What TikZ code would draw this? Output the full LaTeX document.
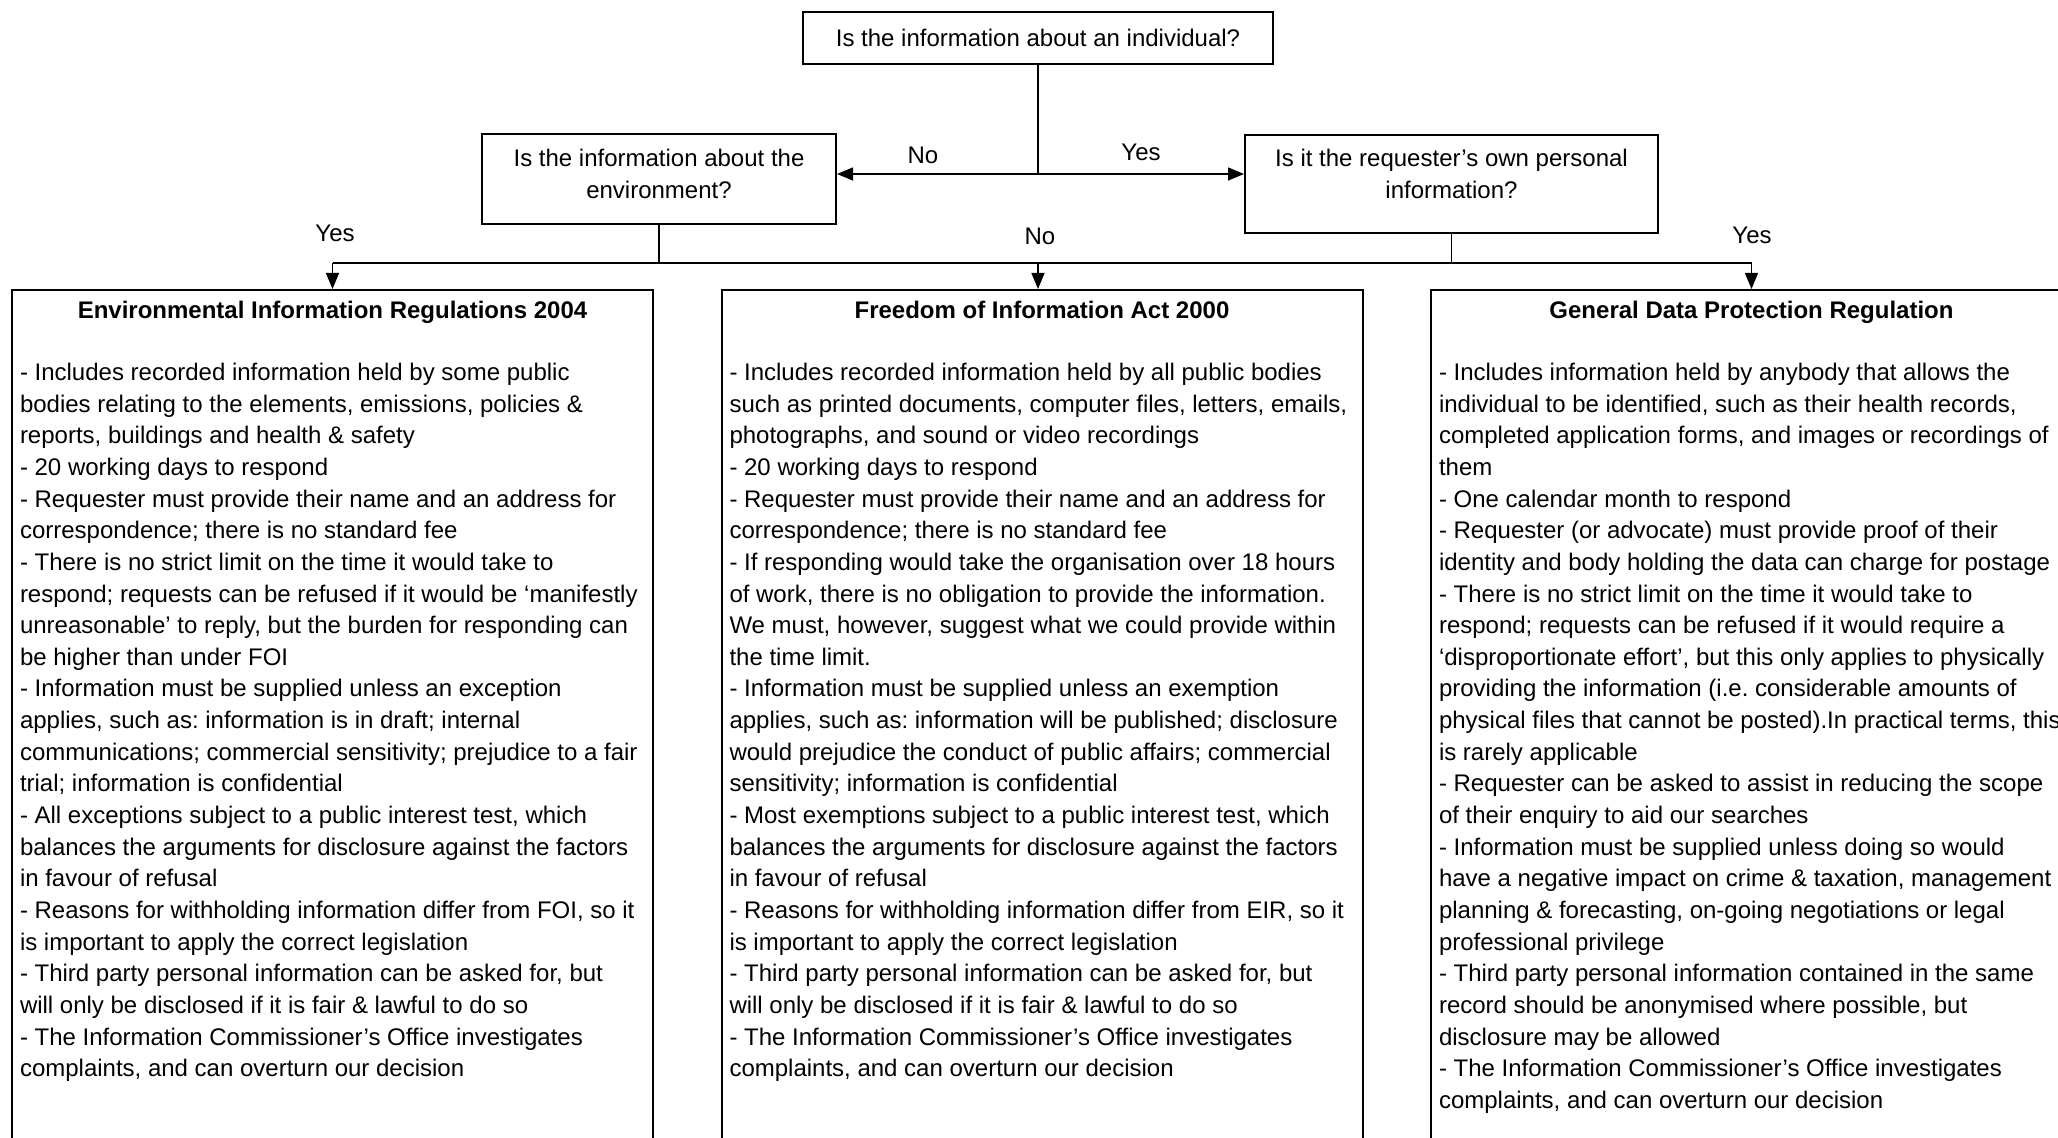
\documentclass[tikz,border=0pt]{standalone}
\usepackage{fontspec}
\setmainfont{Liberation Sans}
\usepackage{tikz}
\usetikzlibrary{arrows.meta}

\newcommand{\flowsize}{\fontsize{12pt}{15.83pt}\selectfont\frenchspacing}

\tikzset{
	question/.style={draw, line width=1pt, inner sep=0pt},
	questiontext/.style={anchor=north, align=center, inner sep=0pt},
	lawbox/.style={draw, line width=1pt, anchor=north, minimum width=320.5pt, minimum height=440pt, inner sep=0pt},
	lawtitle/.style={anchor=base, inner sep=0pt, font=\flowsize\bfseries},
	lawtext/.style={anchor=north west, align=left, inner sep=0pt},
	answer/.style={anchor=base, inner sep=0pt},
	link/.style={line width=0.7pt},
}

\begin{document}
\begin{tikzpicture}[x=0.5pt, y=-0.5pt, >={Triangle[length=8pt, width=6.5pt]}, font=\flowsize]

	\clip (0,0) rectangle (2058,1138);
	\fill[white] (0,0) rectangle (2058,1138);

	% questions
	\node[question, minimum width=235pt, minimum height=26pt] (indiv) at (1038,38) {Is the information about an individual?};
	\node[question, minimum width=177pt, minimum height=45pt] (env) at (659,179) {};
	\node[questiontext] (envtext) at ([yshift=-7.8pt]env.north) {Is the information about the\\environment?};
	\node[question, minimum width=206.5pt, minimum height=49pt] (own) at (1451.5,184) {};
	\node[questiontext] (owntext) at ([yshift=-7.3pt]own.north) {Is it the requester’s own personal\\information?};

	\coordinate (split) at (1038,174);
	\draw[link] (indiv) -- (split);
	\draw[link, ->] (split) -- (split -| env.east);
	\draw[link, ->] (split) -- (split -| own.west);
	\node[answer] (lblno) at (923,164) {No};
	\node[answer] (lblyes) at (1141,161) {Yes};

	% laws
	\node[lawbox] (eir) at (332.5,289) {};
	\node[lawbox] (foi) at (1042,289) {};
	\node[lawbox] (gdpr) at (1751.5,289) {};

	\coordinate (bus) at (0,263);
	\draw[link] (env) -- (env.south |- bus);
	\draw[link] (own) -- (own.south |- bus);
	\draw[link] (eir.north |- bus) -- (gdpr.north |- bus);
	\draw[link, ->] (eir.north |- bus) -- (eir.north);
	\draw[link, ->] (split |- bus) -- (split |- foi.north);
	\draw[link, ->] (gdpr.north |- bus) -- (gdpr.north);

	\node[answer] (lbleir) at (335,242) {Yes};
	\node[answer] (lblfoi) at (1040,245) {No};
	\node[answer] (lblgdpr) at (1752,244) {Yes};

	% titles
	\node[lawtitle] (eirtitle) at ([yshift=-15pt]eir.north) {Environmental Information Regulations 2004};
	\node[lawtitle] (foititle) at ([yshift=-15pt]foi.north) {Freedom of Information Act 2000};
	\node[lawtitle] (gdprtitle) at ([yshift=-15pt]gdpr.north) {General Data Protection Regulation};

	% texts
	\node[lawtext] (eirtext) at ([xshift=4.3pt, yshift=-36.8pt]eir.north west) {%
		- Includes recorded information held by some public\\
		bodies relating to the elements, emissions, policies \&\\
		reports, buildings and health \& safety\\
		- 20 working days to respond\\
		- Requester must provide their name and an address for\\
		correspondence; there is no standard fee\\
		- There is no strict limit on the time it would take to\\
		respond; requests can be refused if it would be ‘manifestly\\
		unreasonable’ to reply, but the burden for responding can\\
		be higher than under FOI\\
		- Information must be supplied unless an exception\\
		applies, such as: information is in draft; internal\\
		communications; commercial sensitivity; prejudice to a fair\\
		trial; information is confidential\\
		- All exceptions subject to a public interest test, which\\
		balances the arguments for disclosure against the factors\\
		in favour of refusal\\
		- Reasons for withholding information differ from FOI, so it\\
		is important to apply the correct legislation\\
		- Third party personal information can be asked for, but\\
		will only be disclosed if it is fair \& lawful to do so\\
		- The Information Commissioner’s Office investigates\\
		complaints, and can overturn our decision};

	\node[lawtext] (foitext) at ([xshift=4.3pt, yshift=-36.8pt]foi.north west) {%
		- Includes recorded information held by all public bodies\\
		such as printed documents, computer files, letters, emails,\\
		photographs, and sound or video recordings\\
		- 20 working days to respond\\
		- Requester must provide their name and an address for\\
		correspondence; there is no standard fee\\
		- If responding would take the organisation over 18 hours\\
		of work, there is no obligation to provide the information.\\
		We must, however, suggest what we could provide within\\
		the time limit.\\
		- Information must be supplied unless an exemption\\
		applies, such as: information will be published; disclosure\\
		would prejudice the conduct of public affairs; commercial\\
		sensitivity; information is confidential\\
		- Most exemptions subject to a public interest test, which\\
		balances the arguments for disclosure against the factors\\
		in favour of refusal\\
		- Reasons for withholding information differ from EIR, so it\\
		is important to apply the correct legislation\\
		- Third party personal information can be asked for, but\\
		will only be disclosed if it is fair \& lawful to do so\\
		- The Information Commissioner’s Office investigates\\
		complaints, and can overturn our decision};

	\node[lawtext] (gdprtext) at ([xshift=4.3pt, yshift=-36.8pt]gdpr.north west) {%
		- Includes information held by anybody that allows the\\
		individual to be identified, such as their health records,\\
		completed application forms, and images or recordings of\\
		them\\
		- One calendar month to respond\\
		- Requester (or advocate) must provide proof of their\\
		identity and body holding the data can charge for postage\\
		- There is no strict limit on the time it would take to\\
		respond; requests can be refused if it would require a\\
		‘disproportionate effort’, but this only applies to physically\\
		providing the information (i.e. considerable amounts of\\
		physical files that cannot be posted).In practical terms, this\\
		is rarely applicable\\
		- Requester can be asked to assist in reducing the scope\\
		of their enquiry to aid our searches\\
		- Information must be supplied unless doing so would\\
		have a negative impact on crime \& taxation, management\\
		planning \& forecasting, on-going negotiations or legal\\
		professional privilege\\
		- Third party personal information contained in the same\\
		record should be anonymised where possible, but\\
		disclosure may be allowed\\
		- The Information Commissioner’s Office investigates\\
		complaints, and can overturn our decision};

\end{tikzpicture}
\end{document}
